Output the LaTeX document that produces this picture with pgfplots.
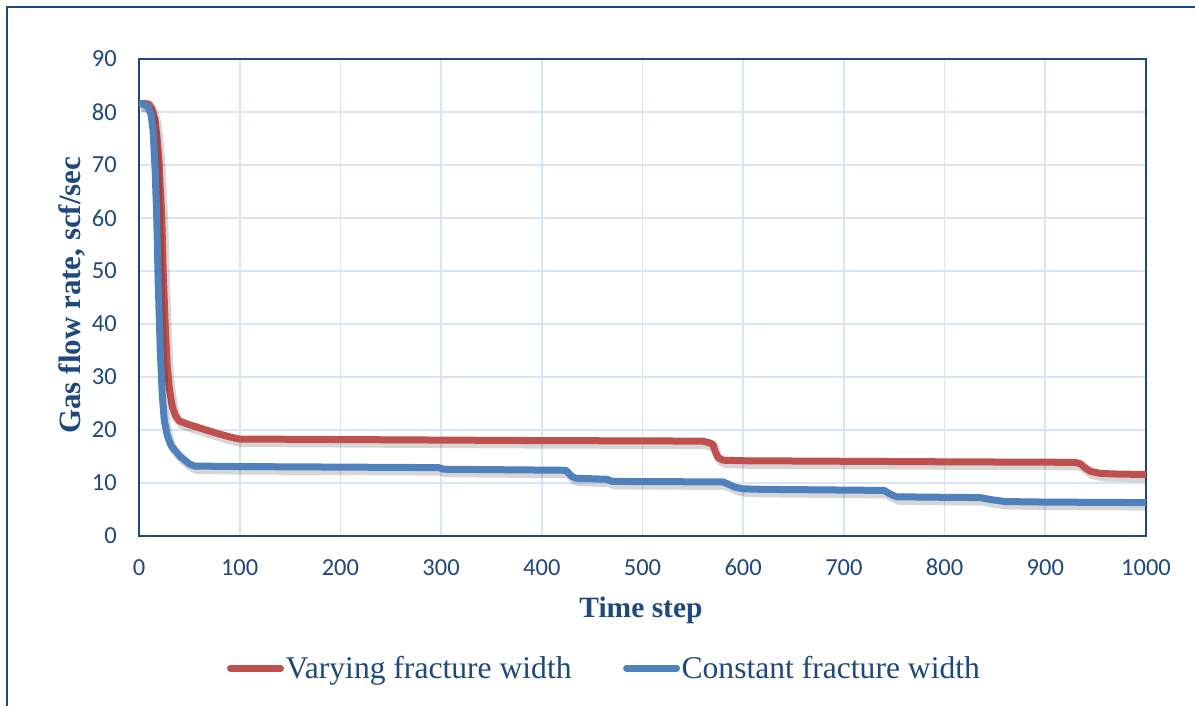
\documentclass[border=0pt]{standalone}
\usepackage{pgfplots}
\usepackage{pgfplotstable}
\pgfplotsset{compat=1.18}
\usepackage{fontspec}
\setmainfont{Liberation Serif}
\newfontfamily\tickfont{Carlito}
\definecolor{txtblue}{RGB}{31,73,125}
\definecolor{gridblue}{RGB}{217,228,244}
\definecolor{redline}{RGB}{192,80,77}
\definecolor{blueline}{RGB}{79,129,189}

\pgfplotstableread{
x y
0 81.6
5 81.6
10 81.5
13 80.5
16 78.5
18 75
20 70.5
21 66
22.5 61
24 50
26 40
28 32
30 28
33 24.5
36 22.7
40 21.7
50 21
60 20.4
75 19.5
90 18.7
97 18.4
100 18.3
200 18.2
300 18.1
400 18.0
500 17.95
560 17.9
566 17.6
570 17.3
572 16
575 14.8
580 14.3
600 14.2
700 14.1
800 14.0
930 13.9
935 13.6
940 12.8
945 12.2
955 11.8
970 11.7
1000 11.6
}\varying

\pgfplotstableread{
x y
0 81.6
6 81.4
9 81
12 79.5
14 76.5
16 69
17.5 61
19 48.3
21 35.7
23 27
25 22
28 19
32 17
41 15
50 13.6
55 13.2
100 13.1
200 13.0
298 12.9
302 12.6
424 12.4
426 12.0
430 11.2
434 10.9
465 10.7
470 10.3
580 10.2
585 9.8
592 9.2
600 8.9
620 8.8
740 8.6
745 8.0
752 7.4
800 7.3
835 7.25
845 6.9
860 6.5
900 6.4
1000 6.3
}\constant

\begin{document}
\begin{tikzpicture}
\useasboundingbox (0pt,0pt) rectangle (1195pt,705pt);
\fill[white] (0pt,0pt) rectangle (1195pt,705pt);
\draw[txtblue, line width=1.8pt] (7pt,-20pt) -- (7pt,698pt) -- (1220pt,698pt);
\begin{axis}[
  at={(139pt,169pt)}, anchor=south west,
  width=1007pt, height=477pt, scale only axis,
  xmin=0, xmax=1000, ymin=0, ymax=90,
  xtick={0,100,...,1000}, ytick={0,10,...,90},
  major tick length=0pt,
  axis line style={txtblue, line width=1.8pt},
  grid=major,
  major grid style={gridblue, line width=1.8pt},
  /pgf/number format/assume math mode=true,
  /pgf/number format/1000 sep={},
  ticklabel style={font=\tickfont\fontsize{24.5}{29}\selectfont, text=txtblue, inner sep=0pt},
  yticklabel style={xshift=-22pt},
  xticklabel style={yshift=-23pt},
  xlabel={Time step},
  ylabel={Gas flow rate, scf/sec},
  xlabel style={font=\bfseries\fontsize{29.5}{34}\selectfont, text=txtblue,
    at={(axis description cs:0.4985,0)}, anchor=base, yshift=-81pt},
  ylabel style={font=\bfseries\fontsize{31}{36}\selectfont, text=txtblue,
    at={(axis description cs:-0.0576,0.505)}, anchor=base},
  legend columns=2,
  legend style={at={(axis description cs:0.462,-0.277)}, anchor=center,
    draw=none, fill=none,
    font=\fontsize{31.6}{37}\selectfont, text=txtblue,
    nodes={inner sep=1.5pt},
    /tikz/every even column/.append style={column sep=50pt}},
  legend image code/.code={\draw[#1, line width=7pt, line cap=round] (3.5pt,0pt) -- (53.5pt,0pt);},
]
\addplot[forget plot, black, opacity=0.16, line width=8pt, shift={(2.5pt,-4pt)}] table[x=x,y=y] {\varying};
\addplot[redline, line width=7pt, line join=round] table[x=x,y=y] {\varying};
\addlegendentry{Varying fracture width}
\addplot[forget plot, black, opacity=0.16, line width=8pt, shift={(2.5pt,-4pt)}] table[x=x,y=y] {\constant};
\addplot[blueline, line width=7pt, line join=round] table[x=x,y=y] {\constant};
\addlegendentry{Constant fracture width}
\end{axis}
\end{tikzpicture}
\end{document}
